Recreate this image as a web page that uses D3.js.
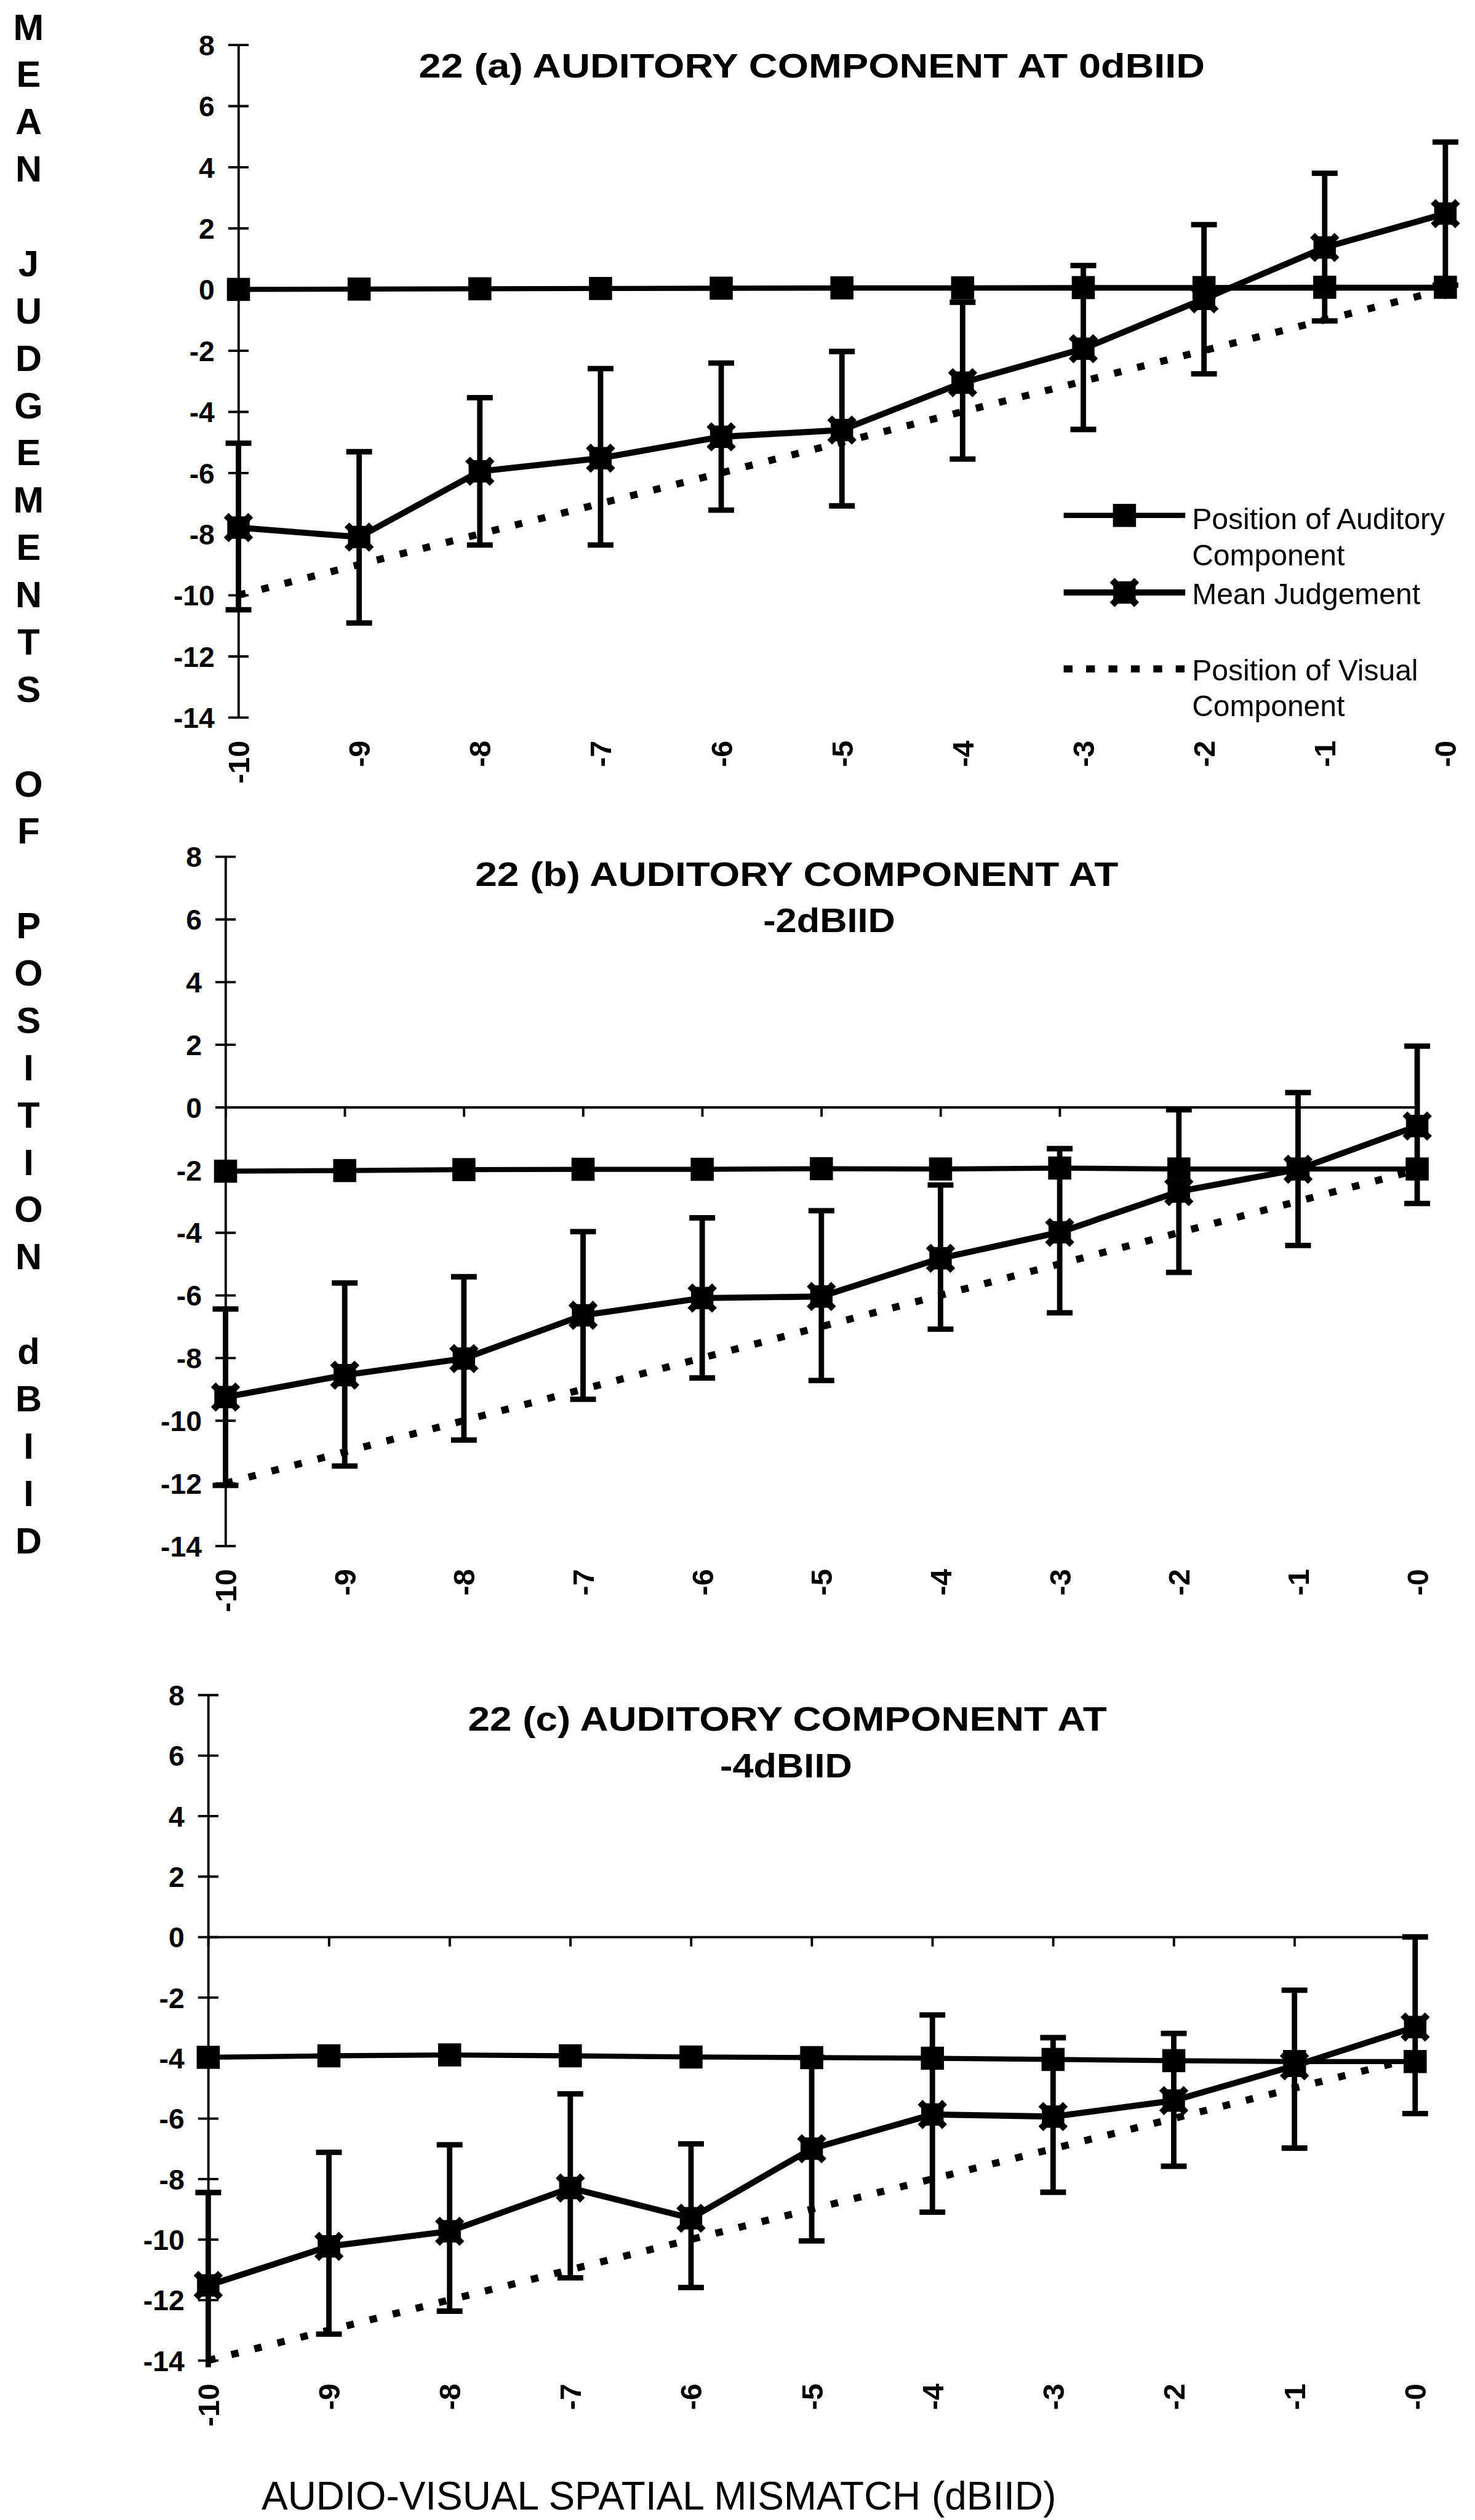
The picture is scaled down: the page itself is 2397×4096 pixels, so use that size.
<!DOCTYPE html>
<html>
<head>
<meta charset="utf-8">
<script src="https://cdn.jsdelivr.net/npm/d3@7"></script>
<style>
  html, body { margin: 0; padding: 0; background: #fff; }
  svg { display: block; }
</style>
</head>
<body>
<script>
// Mismatch categories (dBIID) and their printed labels
const categories = [-10, -9, -8, -7, -6, -5, -4, -3, -2, -1, 0];
const tickLabels = ["-10", "-9", "-8", "-7", "-6", "-5", "-4", "-3", "-2", "-1", "-0"];
const yTicks = [8, 6, 4, 2, 0, -2, -4, -6, -8, -10, -12, -14];

// 22 (a) auditory component at 0 dBIID
const auditoryA = [0.0, 0.01, 0.02, 0.03, 0.04, 0.05, 0.05, 0.06, 0.06, 0.07, 0.07];
const meanA     = [-7.79, -8.10, -5.95, -5.52, -4.82, -4.60, -3.05, -1.94, -0.31, 1.37, 2.48];
const upperA    = [-5.03, -5.31, -3.54, -2.59, -2.41, -2.03, -0.42, 0.78, 2.12, 3.80, 4.82];
const lowerA    = [-10.48, -10.91, -8.36, -8.36, -7.22, -7.08, -5.55, -4.58, -2.76, -1.03, 0.14];
const visualA   = [-10, -9, -8, -7, -6, -5, -4, -3, -2, -1, 0];

// 22 (b) auditory component at -2 dBIID
const auditoryB = [-2.04, -2.02, -1.99, -1.98, -1.98, -1.96, -1.97, -1.94, -1.97, -1.97, -1.97];
const meanB     = [-9.25, -8.55, -8.02, -6.64, -6.09, -6.04, -4.82, -3.99, -2.69, -1.98, -0.60];
const upperB    = [-6.44, -5.61, -5.41, -3.97, -3.53, -3.30, -2.48, -1.32, -0.08, 0.47, 1.95];
const lowerB    = [-12.07, -11.45, -10.62, -9.32, -8.64, -8.72, -7.08, -6.56, -5.27, -4.41, -3.07];
const visualB   = [-12, -11, -10, -9, -8, -7, -6, -5, -4, -3, -2];

// 22 (c) auditory component at -4 dBIID
const auditoryC = [-3.98, -3.93, -3.90, -3.93, -3.97, -3.99, -4.01, -4.05, -4.09, -4.12, -4.12];
const meanC     = [-11.52, -10.23, -9.73, -8.30, -9.30, -7.00, -5.87, -5.94, -5.41, -4.26, -2.98];
const upperC    = [-8.45, -7.12, -6.87, -5.19, -6.84, -3.98, -2.58, -3.33, -3.19, -1.76, 0.00];
const lowerC    = [-14.59, -13.13, -12.37, -11.27, -11.59, -10.05, -9.10, -8.44, -7.58, -6.98, -5.84];
const visualC   = [-14, -13, -12, -11, -10, -9, -8, -7, -6, -5, -4];

const legendItems = ["Position of Auditory|Component", "Mean Judgement", "Position of Visual|Component"];
const yAxisTitle = "MEAN JUDGEMENTS OF POSITION dBIID";
const xAxisTitle = "AUDIO-VISUAL SPATIAL MISMATCH (dBIID)";

const FONT = "'Liberation Sans', Arial, Helvetica, sans-serif";
const W = 4343, H = 7422;
const DOTS = "22 48";

const svg = d3.select("body").append("svg")
  .attr("width", 2397).attr("height", 4096)
  .attr("viewBox", `0 0 ${W} ${H}`);
svg.append("rect").attr("width", W).attr("height", H).attr("fill", "#fff");

const panels = [
  { key: "a", auditory: auditoryA, mean: meanA, upper: upperA, lower: lowerA, visual: visualA,
    x0: 702, x1: 4256, yTop: 132, yBot: 2113, legend: true,
    title: [{ t: "22 (a) AUDITORY COMPONENT AT 0dBIID", x: 1233, y: 228, w: 2315 }] },
  { key: "b", auditory: auditoryB, mean: meanB, upper: upperB, lower: lowerB, visual: visualB,
    x0: 664, x1: 4173, yTop: 2523, yBot: 4553, legend: false,
    title: [{ t: "22 (b) AUDITORY COMPONENT AT", x: 1399, y: 2609, w: 1894 },
            { t: "-2dBIID", x: 2247, y: 2746, w: 389 }] },
  { key: "c", auditory: auditoryC, mean: meanC, upper: upperC, lower: lowerC, visual: visualC,
    x0: 613, x1: 4167, yTop: 4992, yBot: 6952, legend: false,
    title: [{ t: "22 (c) AUDITORY COMPONENT AT", x: 1378, y: 5097, w: 1881 },
            { t: "-4dBIID", x: 2120, y: 5234, w: 389 }] }
];

// marker painters
function squareMarker(g, cx, cy) {
  g.append("rect").attr("x", cx - 34).attr("y", cy - 34)
    .attr("width", 68).attr("height", 68).attr("fill", "#000");
}
// filled square with short spiky corners
function starMarker(g, cx, cy) {
  g.append("rect").attr("x", cx - 33).attr("y", cy - 33)
    .attr("width", 66).attr("height", 66).attr("fill", "#000");
  g.append("path")
    .attr("d", `M${cx - 36},${cy - 36}L${cx + 36},${cy + 36}M${cx - 36},${cy + 36}L${cx + 36},${cy - 36}`)
    .attr("stroke", "#000").attr("stroke-width", 20).attr("fill", "none");
}

panels.forEach(p => {
  const x = d3.scalePoint().domain(categories).range([p.x0, p.x1]);
  const y = d3.scaleLinear().domain([8, -14]).range([p.yTop, p.yBot]);
  const g = svg.append("g").attr("class", "panel-" + p.key);

  const clipId = "clip-" + p.key;
  svg.append("clipPath").attr("id", clipId).append("rect")
    .attr("x", p.x0 - 120).attr("y", p.yTop - 80)
    .attr("width", p.x1 - p.x0 + 240).attr("height", p.yBot - p.yTop + 100);

  // y axis with crossing ticks
  const yAxis = g.append("g").attr("transform", `translate(${p.x0},0)`)
    .call(d3.axisLeft(y).tickValues(yTicks).tickSizeInner(30).tickSizeOuter(0).tickPadding(40));
  yAxis.select(".domain").attr("stroke", "#000").attr("stroke-width", 7);
  yAxis.selectAll(".tick line").attr("x1", 30).attr("stroke", "#000").attr("stroke-width", 7);
  yAxis.selectAll(".tick text").attr("font-family", FONT).attr("font-size", 84)
    .attr("font-weight", "bold").attr("fill", "#000").attr("dy", "0.36em")
    .text(d => d < 0 ? "-" + Math.abs(d) : String(d));

  // x axis crossing at zero, ticks hanging below
  const xAxis = g.append("g").attr("transform", `translate(0,${y(0)})`)
    .call(d3.axisBottom(x).tickValues(categories).tickSizeInner(28).tickSizeOuter(0).tickFormat(""));
  xAxis.select(".domain").attr("stroke", "#000").attr("stroke-width", 7);
  xAxis.selectAll(".tick line").attr("stroke", "#000").attr("stroke-width", 7);

  // rotated category labels below the plot
  g.append("g").selectAll("text").data(categories).join("text")
    .attr("transform", d => `translate(${x(d)},${p.yBot + 68}) rotate(-90)`)
    .attr("text-anchor", "end").attr("dy", "0.36em")
    .attr("font-family", FONT).attr("font-size", 88).attr("font-weight", "bold")
    .text((d, i) => tickLabels[i]);

  const plot = g.append("g").attr("clip-path", `url(#${clipId})`);

  // visual component: dotted line
  plot.append("path").datum(p.visual)
    .attr("d", d3.line().x((d, i) => x(categories[i])).y(d => y(d)))
    .attr("fill", "none").attr("stroke", "#000").attr("stroke-width", 21)
    .attr("stroke-dasharray", DOTS);

  // error bars on mean judgement
  const eb = plot.append("g");
  categories.forEach((c, i) => {
    const cx = x(c);
    eb.append("line").attr("x1", cx).attr("x2", cx)
      .attr("y1", y(p.upper[i])).attr("y2", y(p.lower[i]))
      .attr("stroke", "#000").attr("stroke-width", 16);
    [p.upper[i], p.lower[i]].forEach(v => {
      eb.append("line").attr("x1", cx - 38).attr("x2", cx + 38)
        .attr("y1", y(v)).attr("y2", y(v))
        .attr("stroke", "#000").attr("stroke-width", 16);
    });
  });

  // auditory component line + square markers
  plot.append("path").datum(p.auditory)
    .attr("d", d3.line().x((d, i) => x(categories[i])).y(d => y(d)))
    .attr("fill", "none").attr("stroke", "#000").attr("stroke-width", 15);
  const am = plot.append("g");
  p.auditory.forEach((v, i) => squareMarker(am, x(categories[i]), y(v)));

  // mean judgement line + markers
  plot.append("path").datum(p.mean)
    .attr("d", d3.line().x((d, i) => x(categories[i])).y(d => y(d)))
    .attr("fill", "none").attr("stroke", "#000").attr("stroke-width", 18)
    .attr("stroke-linejoin", "round");
  const mm = plot.append("g");
  p.mean.forEach((v, i) => starMarker(mm, x(categories[i]), y(v)));

  // panel title
  p.title.forEach(l => {
    g.append("text").attr("x", l.x).attr("y", l.y)
      .attr("font-family", FONT).attr("font-size", 100).attr("font-weight", "bold")
      .attr("textLength", l.w).attr("lengthAdjust", "spacingAndGlyphs")
      .text(l.t);
  });

  // legend
  if (p.legend) {
    const lg = g.append("g").attr("font-family", FONT).attr("font-size", 87);
    const rows = [
      { lineY: 1518, base: [1558, 1666], kind: "square" },
      { lineY: 1745, base: [1779], kind: "star" },
      { lineY: 1970, base: [2004, 2110], kind: "dot" }
    ];
    rows.forEach((r, ri) => {
      const ln = lg.append("line").attr("x1", 3132).attr("x2", 3490)
        .attr("y1", r.lineY).attr("y2", r.lineY).attr("stroke", "#000");
      if (r.kind === "dot") {
        ln.attr("stroke-width", 21).attr("stroke-dasharray", "26 40");
      } else {
        ln.attr("stroke-width", r.kind === "star" ? 18 : 15);
        if (r.kind === "square") squareMarker(lg, 3311, r.lineY);
        else starMarker(lg, 3311, r.lineY);
      }
      legendItems[ri].split("|").forEach((t, k) => {
        lg.append("text").attr("x", 3510).attr("y", r.base[k]).text(t);
      });
    });
  }
});

// vertical y-axis title, one letter per line
svg.append("g").selectAll("text").data(yAxisTitle.split("")).join("text")
  .attr("x", 84).attr("y", (d, i) => 117 + i * 139.3)
  .attr("text-anchor", "middle")
  .attr("font-family", FONT).attr("font-size", 108).attr("font-weight", "bold")
  .text(d => d === " " ? "" : d);

// shared x-axis title
svg.append("text").attr("x", 770).attr("y", 7392)
  .attr("font-family", FONT).attr("font-size", 116)
  .attr("textLength", 2340).attr("lengthAdjust", "spacingAndGlyphs")
  .text(xAxisTitle);
</script>
</body>
</html>
